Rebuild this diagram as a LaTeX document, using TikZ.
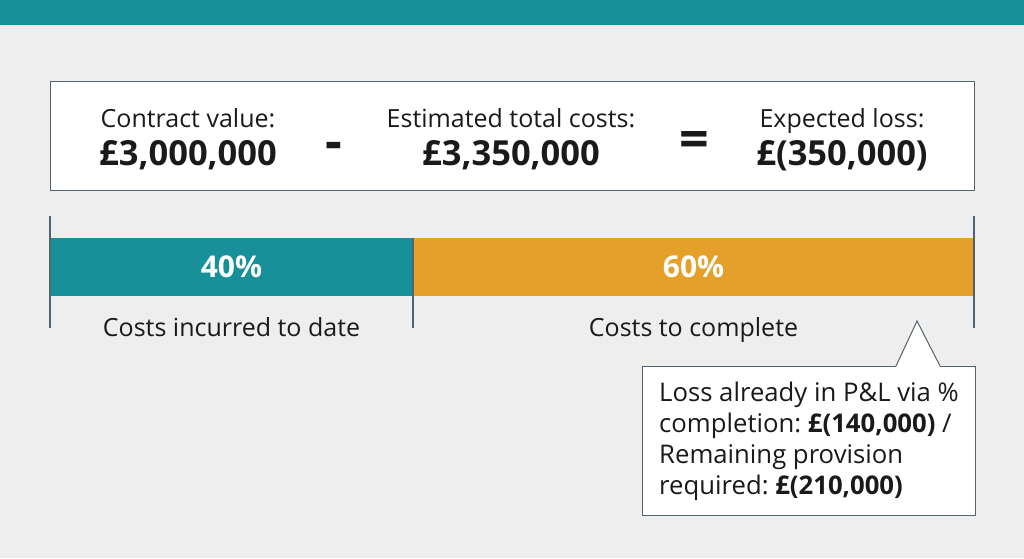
\documentclass[tikz,border=0pt]{standalone}
\usepackage{fontspec}
\setmainfont{Open Sans}
\usetikzlibrary{positioning, calc}

\definecolor{bandteal}{HTML}{17909A}
\definecolor{barorange}{HTML}{E5A02B}
\definecolor{paper}{HTML}{EEEEEE}
\definecolor{rulegray}{HTML}{53626B}
\definecolor{ink}{HTML}{1A1A1A}

\begin{document}
\frenchspacing
\begin{tikzpicture}[x=1pt, y=-1pt, node distance=0pt,
	lbl/.style={font=\fontsize{25}{30}\selectfont, text=ink, inner sep=0pt, anchor=base},
	amt/.style={font=\fontsize{34.5}{40}\selectfont\bfseries, text=ink, inner sep=0pt, anchor=base},
	op/.style={font=\fontsize{52}{52}\selectfont\bfseries, text=ink, inner sep=0pt, anchor=base},
	bar/.style={minimum height=58pt, inner sep=0pt, outer sep=0pt, text=white, font=\fontsize{30}{34}\selectfont\bfseries},
	tick/.style={draw=rulegray, line width=1.2pt},
	note/.style={draw=rulegray, line width=1pt, fill=white, anchor=north west, minimum width=333pt, minimum height=149pt,
		inner sep=0pt, align=left, text=ink, font=\fontsize{25.7}{31}\selectfont}]

\useasboundingbox (0,0) rectangle (1024,558);
\fill[paper] (0,0) rectangle (1024,558);
\fill[bandteal] (0,0) rectangle (1024,25);

\node[draw=rulegray, line width=1pt, fill=white, minimum width=924pt, minimum height=109pt, anchor=north west] (summary) at (50,81) {};

\node[lbl] (contract) at (188,127) {Contract value:};
\node[amt] (contract-amt) at ([yshift=-38pt]contract.base) {£3,000,000};
\node[lbl] (estimate) at (511,127) {Estimated total costs:};
\node[amt] (estimate-amt) at ([yshift=-38pt]estimate.base) {£3,350,000};
\node[lbl] (loss) at (842,127) {Expected loss:};
\node[amt] (loss-amt) at ([yshift=-38pt]loss.base) {£(350,000)};

\node[op] (minus) at (334,159) {-};
\node[op] (equals) at (694,157) {=};

\node[bar, fill=bandteal, minimum width=363pt, anchor=north west] (incurred) at (50,238) {40\%};
\node[bar, fill=barorange, minimum width=561pt, right=of incurred] (remaining) {60\%};

\node[lbl] (incurred-lbl) at (incurred.center |- 0,336) {Costs incurred to date};
\node[lbl] (remaining-lbl) at (remaining.center |- 0,336) {Costs to complete};

\draw[tick] ([yshift=22pt]incurred.north west) -- ([yshift=-32pt]incurred.south west);
\draw[tick] (incurred.north east) -- ([yshift=-32pt]incurred.south east);
\draw[tick] ([yshift=22pt]remaining.north east) -- ([yshift=-32pt]remaining.south east);

\node[note] (note) at (642,366) {Loss already in P\&L via \%\\
completion: \textbf{£(140,000)} /\\
Remaining provision\\
required: \textbf{£(210,000)}};
\coordinate (tip) at (917,321);
\fill[white] ([xshift=254pt, yshift=-0.8pt]note.north west) -- (tip) -- ([xshift=-36pt, yshift=-0.8pt]note.north east) -- cycle;
\draw[draw=rulegray, line width=1pt] ([xshift=254pt]note.north west) -- (tip) -- ([xshift=-36pt]note.north east);

\end{tikzpicture}
\end{document}
